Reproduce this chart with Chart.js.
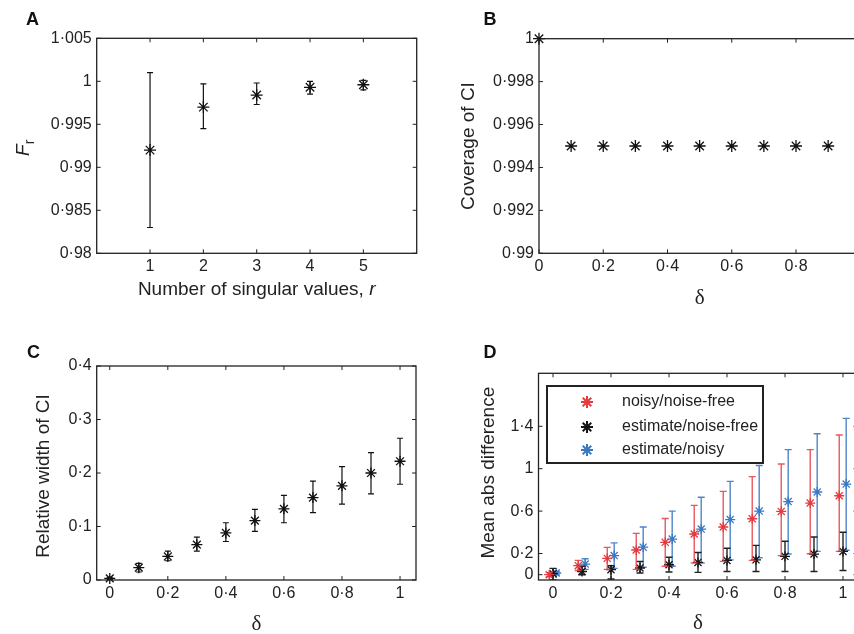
<!DOCTYPE html>
<html>
<head>
<meta charset="utf-8">
<script src="https://cdn.jsdelivr.net/npm/chart.js@4.4.1/dist/chart.umd.min.js"></script>
<style>
  html, body { margin: 0; padding: 0; background: #fff; }
  body { width: 854px; height: 634px; overflow: hidden; position: relative; }
  canvas { position: absolute; }
</style>
</head>
<body>
<canvas id="panelA" width="430" height="317" style="left:0;top:0"></canvas>
<canvas id="panelB" width="470" height="317" style="left:430px;top:0"></canvas>
<canvas id="panelC" width="430" height="317" style="left:0;top:317px"></canvas>
<canvas id="panelD" width="470" height="317" style="left:430px;top:317px"></canvas>
<script>
// ---- data ----
// A: F_r against number of singular values
const rVals = [1, 2, 3, 4, 5]
const frMean = [0.9920, 0.9970, 0.9984, 0.9993, 0.9996]
const frLo = [0.9830, 0.9945, 0.9973, 0.9985, 0.9990]
const frHi = [1.0010, 0.9997, 0.9998, 1.0000, 1.0001]
const aXTicks = [1, 2, 3, 4, 5]
const aXLabels = ["1", "2", "3", "4", "5"]
const aYTicks = [0.98, 0.985, 0.99, 0.995, 1, 1.005]
const aYLabels = ["0·98", "0·985", "0·99", "0·995", "1", "1·005"]

// shared delta values for B, C, D
const deltaVals = [0, 0.1, 0.2, 0.3, 0.4, 0.5, 0.6, 0.7, 0.8, 0.9, 1]
const deltaTicks = [0, 0.2, 0.4, 0.6, 0.8, 1]
const deltaLabels = ["0", "0·2", "0·4", "0·6", "0·8", "1"]

// B: coverage of CI
const coverage = [1, 0.995, 0.995, 0.995, 0.995, 0.995, 0.995, 0.995, 0.995, 0.995, 0.995]
const bYTicks = [0.99, 0.992, 0.994, 0.996, 0.998, 1]
const bYLabels = ["0·99", "0·992", "0·994", "0·996", "0·998", "1"]

// C: relative width of CI
const widthMean = [0.003, 0.023, 0.044, 0.066, 0.088, 0.111, 0.133, 0.154, 0.176, 0.200, 0.222]
const widthLo = [0.001, 0.015, 0.036, 0.054, 0.072, 0.091, 0.107, 0.126, 0.142, 0.161, 0.179]
const widthHi = [0.005, 0.031, 0.054, 0.080, 0.107, 0.132, 0.158, 0.185, 0.212, 0.238, 0.265]
const cYTicks = [0, 0.1, 0.2, 0.3, 0.4]
const cYLabels = ["0", "0·1", "0·2", "0·3", "0·4"]

// D: mean abs difference
const dSeries = ["noisy/noise-free", "estimate/noise-free", "estimate/noisy"]
const noisyMean = [0.0, 0.085, 0.154, 0.233, 0.305, 0.384, 0.45, 0.528, 0.597, 0.676, 0.745]
const noisyLo = [-0.02, 0.04, 0.05, 0.05, 0.08, 0.11, 0.126, 0.135, 0.18, 0.198, 0.22]
const noisyHi = [0.02, 0.135, 0.258, 0.39, 0.53, 0.654, 0.786, 0.925, 1.044, 1.18, 1.318]
const estFreeMean = [0.01, 0.03, 0.047, 0.063, 0.094, 0.116, 0.135, 0.14, 0.173, 0.195, 0.22]
const estFreeLo = [-0.05, 0.0, -0.04, 0.016, 0.025, 0.022, 0.03, 0.03, 0.03, 0.03, 0.04]
const estFreeHi = [0.06, 0.08, 0.085, 0.125, 0.164, 0.21, 0.25, 0.277, 0.315, 0.355, 0.40]
const estNoisyMean = [0.016, 0.10, 0.18, 0.26, 0.336, 0.43, 0.52, 0.60, 0.69, 0.78, 0.855]
const estNoisyLo = [0.0, 0.05, 0.06, 0.07, 0.08, 0.11, 0.14, 0.16, 0.195, 0.22, 0.23]
const estNoisyHi = [0.03, 0.15, 0.30, 0.45, 0.60, 0.73, 0.88, 1.03, 1.18, 1.33, 1.475]
const dYTicks = [0, 0.2, 0.6, 1, 1.4]
const dYLabels = ["0", "0·2", "0·6", "1", "1·4"]

// ---- styling ----
const SANS = '"Liberation Sans", Arial, sans-serif'
const SERIF = '"Liberation Serif", "Times New Roman", serif'
const INK = "#222"
Chart.defaults.font.family = SANS
Chart.defaults.color = INK

function drawRuns(ctx, runs, x, y, rot) {
  ctx.save()
  ctx.translate(x, y)
  if (rot) ctx.rotate(rot)
  ctx.textAlign = "left"
  ctx.textBaseline = "alphabetic"
  ctx.fillStyle = INK
  let total = 0
  runs.forEach((r) => { ctx.font = r.font; total += ctx.measureText(r.text).width })
  let cx = -total / 2
  runs.forEach((r) => {
    ctx.font = r.font
    ctx.fillText(r.text, cx, r.dy || 0)
    cx += ctx.measureText(r.text).width
  })
  ctx.restore()
}

// box, inner ticks, error bars, titles, legend, panel letter
function makeDeco(cfg) {
  return {
    id: "deco",
    beforeDatasetDraw(chart, args) {
      const ds = chart.data.datasets[args.index]
      if (!ds.errLo) return
      const { ctx, chartArea: a } = chart
      const xs = chart.scales.x, ys = chart.scales.y
      ctx.save()
      ctx.beginPath()
      ctx.rect(a.left, a.top, a.right - a.left, a.bottom - a.top)
      ctx.clip()
      ctx.strokeStyle = ds.errColor || ds.borderColor
      ctx.lineWidth = cfg.errWidth || 1.2
      ctx.beginPath()
      const c = cfg.cap
      ds.data.forEach((p, i) => {
        const px = xs.getPixelForValue(p.x)
        const y1 = ys.getPixelForValue(ds.errLo[i])
        const y2 = ys.getPixelForValue(ds.errHi[i])
        ctx.moveTo(px, y1); ctx.lineTo(px, y2)
        ctx.moveTo(px - c, y1); ctx.lineTo(px + c, y1)
        ctx.moveTo(px - c, y2); ctx.lineTo(px + c, y2)
      })
      ctx.stroke()
      ctx.restore()
    },
    afterDraw(chart) {
      const { ctx, chartArea: a } = chart
      const xs = chart.scales.x, ys = chart.scales.y
      ctx.save()
      ctx.strokeStyle = INK
      ctx.lineWidth = 1.3
      ctx.strokeRect(a.left, a.top, a.right - a.left, a.bottom - a.top)
      ctx.lineWidth = 1
      ctx.beginPath()
      xs.ticks.forEach((t) => {
        const px = xs.getPixelForValue(t.value)
        ctx.moveTo(px, a.bottom); ctx.lineTo(px, a.bottom - 4)
        ctx.moveTo(px, a.top); ctx.lineTo(px, a.top + 4)
      })
      ys.ticks.forEach((t) => {
        const py = ys.getPixelForValue(t.value)
        ctx.moveTo(a.left, py); ctx.lineTo(a.left + 4, py)
        ctx.moveTo(a.right, py); ctx.lineTo(a.right - 4, py)
      })
      ctx.stroke()

      const midX = (a.left + a.right) / 2, midY = (a.top + a.bottom) / 2
      drawRuns(ctx, cfg.xTitle, midX, a.bottom + cfg.xTitleDy, 0)
      drawRuns(ctx, cfg.yTitle, a.left + cfg.yTitleDx, midY + cfg.yTitleDy, -Math.PI / 2)

      if (cfg.legend) {
        const L = cfg.legend
        ctx.fillStyle = "#fff"
        ctx.fillRect(a.left + L.x, a.top + L.y, L.w, L.h)
        ctx.strokeStyle = INK
        ctx.lineWidth = 2
        ctx.strokeRect(a.left + L.x, a.top + L.y, L.w, L.h)
        chart.data.datasets.forEach((ds, i) => {
          const y = a.top + L.rows[i]
          ctx.strokeStyle = ds.borderColor
          Chart.helpers.drawPoint(ctx, { pointStyle: "star", radius: 6, borderWidth: 1.3, rotation: 0 }, a.left + L.mx, y)
          ctx.fillStyle = INK
          ctx.font = "16px " + SANS
          ctx.textAlign = "left"
          ctx.textBaseline = "middle"
          ctx.fillText(ds.label, a.left + L.tx, y)
        })
      }

      ctx.fillStyle = "#111"
      ctx.font = "bold 18px " + SANS
      ctx.textAlign = "center"
      ctx.textBaseline = "alphabetic"
      ctx.fillText(cfg.letter, cfg.letterX, cfg.letterY)
      ctx.restore()
    },
  }
}

function axis(min, max, ticks, labels, fitKey, fitVal, pad) {
  return {
    type: "linear",
    min: min,
    max: max,
    afterBuildTicks: (s) => { s.ticks = ticks.map((v) => ({ value: v })) },
    afterFit: (s) => { s[fitKey] = fitVal },
    grid: { display: true, drawOnChartArea: false, drawTicks: false },
    border: { display: false },
    ticks: {
      autoSkip: false,
      maxRotation: 0,
      padding: pad,
      color: INK,
      font: { size: 16 },
      callback: (v, i) => labels[i],
    },
  }
}

// plot rect in canvas coords: [left, top, right, bottom]
function makeChart(id, rect, datasets, xAxis, yAxis, cfg) {
  const el = document.getElementById(id)
  const W = el.width, H = el.height
  return new Chart(el, {
    type: "scatter",
    data: { datasets: datasets },
    options: {
      responsive: false,
      animation: false,
      devicePixelRatio: 1,
      layout: { padding: { left: 0, top: rect[1], right: W - rect[2], bottom: 0 } },
      plugins: { legend: { display: false }, tooltip: { enabled: false } },
      scales: {
        x: axis(xAxis[0], xAxis[1], xAxis[2], xAxis[3], "height", H - rect[3], 4),
        y: axis(yAxis[0], yAxis[1], yAxis[2], yAxis[3], "width", rect[0], 5),
      },
    },
    plugins: [makeDeco(cfg)],
  })
}

function series(label, xs, ys, color, opts) {
  return Object.assign({
    label: label,
    data: xs.map((x, i) => ({ x: x, y: ys[i] })),
    showLine: false,
    pointStyle: "star",
    pointRadius: 5.5,
    pointBorderWidth: 1.3,
    borderColor: color,
    backgroundColor: color,
    clip: false,
  }, opts || {})
}

const sansTitle = (t) => [{ text: t, font: "19px " + SANS }]
const deltaTitle = [{ text: "δ", font: "21px " + SERIF }]

// Panel A
makeChart("panelA", [96.7, 38.3, 416.7, 253.3],
  [series("F_r", rVals, frMean, "#111", { errLo: frLo, errHi: frHi, errColor: "#111", pointRadius: 6 })],
  [0, 6, aXTicks, aXLabels], [0.98, 1.005, aYTicks, aYLabels],
  {
    cap: 3,
    xTitle: [{ text: "Number of singular values, ", font: "19px " + SANS }, { text: "r", font: "italic 19px " + SANS }],
    xTitleDy: 41.7,
    yTitle: [{ text: "F", font: "italic 19px " + SANS }, { text: "r", font: "14px " + SANS, dy: 5 }],
    yTitleDx: -67.7, yTitleDy: 2,
    letter: "A", letterX: 32.5, letterY: 25,
  })

// Panel B
makeChart("panelB", [109, 38.7, 430.25, 253.3],
  [series("Coverage", deltaVals, coverage, "#111", { pointRadius: 6 })],
  [0, 1, deltaTicks, deltaLabels], [0.99, 1, bYTicks, bYLabels],
  {
    cap: 3,
    xTitle: deltaTitle, xTitleDy: 51,
    yTitle: sansTitle("Coverage of CI"), yTitleDx: -65, yTitleDy: 0,
    letter: "B", letterX: 60, letterY: 25,
  })

// Panel C
makeChart("panelC", [96.7, 49, 416, 263],
  [series("Relative width", deltaVals, widthMean, "#111", { errLo: widthLo, errHi: widthHi, errColor: "#111" })],
  [-0.045, 1.055, deltaTicks, deltaLabels], [0, 0.4, cYTicks, cYLabels],
  {
    cap: 3,
    xTitle: deltaTitle, xTitleDy: 50,
    yTitle: sansTitle("Relative width of CI"), yTitleDx: -48, yTitleDy: 3,
    letter: "C", letterX: 33.5, letterY: 41.3,
  })

// Panel D (series dodged slightly in x)
const dodge = [-0.013, 0, 0.011]
makeChart("panelD", [108.5, 56.3, 427.5, 263],
  [
    series(dSeries[0], deltaVals.map((d) => d + dodge[0]), noisyMean, "#e53a3f",
      { errLo: noisyLo, errHi: noisyHi, errColor: "rgba(229,58,63,0.85)", pointRadius: 5 }),
    series(dSeries[1], deltaVals.map((d) => d + dodge[1]), estFreeMean, "#151515",
      { errLo: estFreeLo, errHi: estFreeHi, errColor: "#222", pointRadius: 5 }),
    series(dSeries[2], deltaVals.map((d) => d + dodge[2]), estNoisyMean, "#3a78c2",
      { errLo: estNoisyLo, errHi: estNoisyHi, errColor: "rgba(58,120,194,0.9)", pointRadius: 5 }),
  ],
  [-0.05, 1.05, deltaTicks, deltaLabels], [-0.05, 1.9, dYTicks, dYLabels],
  {
    cap: 3.5, errWidth: 1.4,
    xTitle: deltaTitle, xTitleDy: 49,
    yTitle: sansTitle("Mean abs difference"), yTitleDx: -45, yTitleDy: -4,
    legend: { x: 8.5, y: 12.7, w: 216, h: 77, rows: [28.7, 53.7, 76.7], mx: 48.5, tx: 83.5 },
    letter: "D", letterX: 60, letterY: 41,
  })
</script>
</body>
</html>
